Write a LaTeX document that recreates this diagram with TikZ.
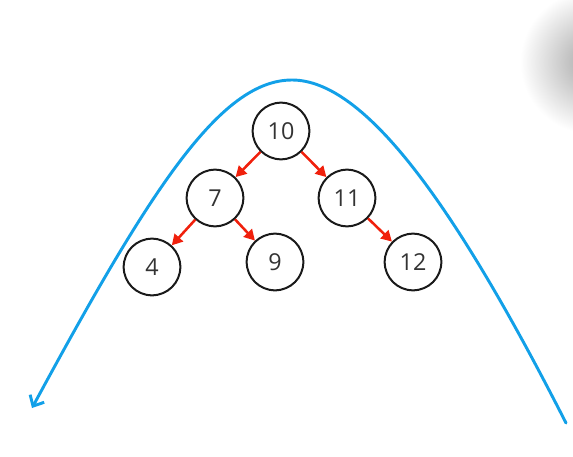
\documentclass[tikz,border=0pt]{standalone}
\usepackage{fontspec}
\setmainfont{Open Sans}
\usetikzlibrary{arrows.meta}
\definecolor{curveblue}{RGB}{18,160,232}
\definecolor{arrowred}{RGB}{240,32,12}
\definecolor{ringcol}{RGB}{26,26,26}
\definecolor{numcol}{RGB}{51,51,51}
\tikzset{
  treenode/.style={circle, draw=ringcol, line width=1.5pt, minimum size=42.5pt, inner sep=0pt, fill=white,
    text=numcol, font=\fontsize{17.5}{21}\selectfont},
  edgearrow/.style={draw=arrowred, line width=1.9pt, -{Triangle[length=8pt,width=8.5pt]}},
  sweep/.style={draw=curveblue, line width=2.2pt, line cap=round, {Straight Barb[length=6.5pt,width=12pt,line width=2.2pt]}-}
}
\begin{document}
\begin{tikzpicture}[x=0.75pt,y=-0.75pt]
\useasboundingbox (0,0) rectangle (573,456);
\begin{scope}
  \clip (0,0) rectangle (573,456);
  \shade[inner color=black!35, outer color=white] (592,62) circle (72);
\end{scope}
% sweep curve
\coordinate (cstart) at (32,408);
\coordinate (capex) at (292,80);
\coordinate (cend) at (566,423);
\draw[sweep] (cstart) .. controls (150,190) and (220,80) .. (capex)
  .. controls (365,80) and (455,205) .. (cend);
% nodes
\node[treenode] (n10) at (281,131) {10};
\node[treenode] (n7) at (215,198) {7};
\node[treenode] (n11) at (347,198) {11};
\node[treenode] (n4) at (152,267) {4};
\node[treenode] (n9) at (275,262) {9};
\node[treenode] (n12) at (413,262) {12};
% edges
\draw[edgearrow] (n10) -- (n7);
\draw[edgearrow] (n10) -- (n11);
\draw[edgearrow] (n7) -- (n4);
\draw[edgearrow] (n7) -- (n9);
\draw[edgearrow] (n11) -- (n12);
\end{tikzpicture}
\end{document}
